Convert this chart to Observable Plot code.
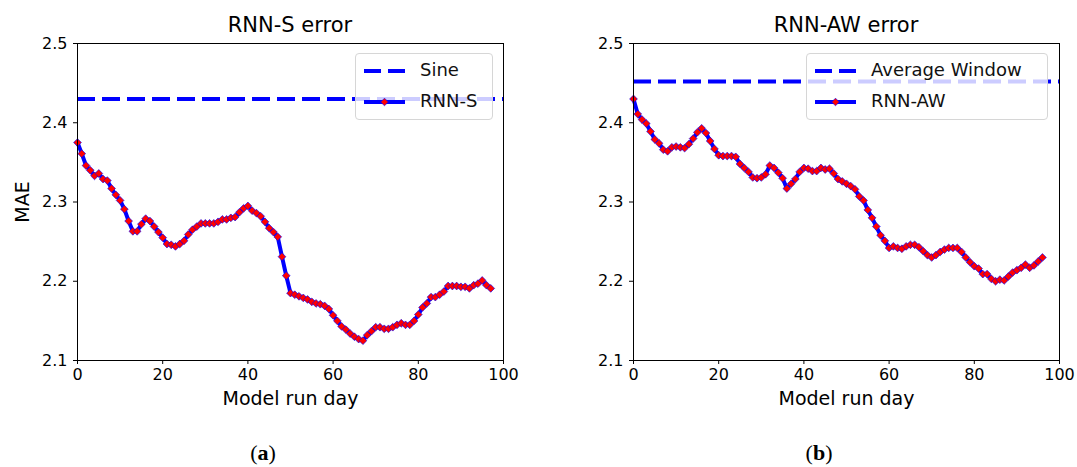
<!DOCTYPE html>
<html><head><meta charset="utf-8">
<script src="https://cdn.jsdelivr.net/npm/d3@7"></script>
<script src="https://cdn.jsdelivr.net/npm/@observablehq/plot@0.6"></script>
<style>
body{margin:0;background:#fff;font-family:"DejaVu Sans",sans-serif;}
#wrap{position:relative;width:1077px;height:467px;overflow:hidden;}
.panel{position:absolute;top:0;}
.title{position:absolute;top:13px;font-size:21px;transform:translateX(-50%);white-space:nowrap;color:#000;}
.cap{position:absolute;top:440px;font-family:"Liberation Serif",serif;font-size:22px;transform:translateX(-50%);color:#000;}
.legend{position:absolute;top:53px;height:67px;background:rgba(255,255,255,0.8);border:1px solid #d6d6d6;border-radius:4px;box-sizing:border-box;}
.legend .lab{position:absolute;left:64px;font-size:18px;color:#111;white-space:nowrap;line-height:20px;}
.legend svg{position:absolute;left:0;top:0;}
g[aria-label="x-axis label"] text, g[aria-label="y-axis label"] text{font-size:19px;}
</style></head><body><div id="wrap"></div>
<script>
// RNN-S daily MAE (day 0..97)
const rnnS = [2.375,2.361,2.346,2.340,2.333,2.336,2.329,2.327,2.317,2.309,
  2.302,2.291,2.276,2.263,2.263,2.272,2.279,2.276,2.269,2.262,
  2.255,2.247,2.246,2.244,2.247,2.251,2.259,2.265,2.269,2.273,
  2.273,2.273,2.273,2.275,2.278,2.278,2.280,2.281,2.287,2.292,
  2.295,2.289,2.286,2.282,2.275,2.267,2.262,2.256,2.231,2.207,
  2.185,2.183,2.181,2.179,2.177,2.174,2.172,2.171,2.169,2.165,
  2.157,2.150,2.143,2.139,2.134,2.130,2.127,2.125,2.132,2.137,
  2.142,2.142,2.140,2.140,2.142,2.145,2.147,2.145,2.145,2.150,
  2.158,2.167,2.172,2.180,2.180,2.183,2.187,2.194,2.194,2.194,
  2.193,2.193,2.191,2.195,2.197,2.201,2.195,2.191];
// RNN-AW daily MAE (day 0..96)
const rnnAW = [2.430,2.411,2.404,2.399,2.389,2.379,2.374,2.366,2.364,2.369,
  2.370,2.369,2.368,2.373,2.380,2.388,2.393,2.387,2.377,2.367,
  2.359,2.358,2.358,2.358,2.357,2.348,2.343,2.338,2.331,2.330,
  2.331,2.335,2.346,2.343,2.337,2.330,2.317,2.323,2.329,2.338,
  2.343,2.342,2.339,2.339,2.343,2.341,2.342,2.336,2.329,2.326,
  2.323,2.320,2.316,2.307,2.302,2.290,2.280,2.269,2.258,2.251,
  2.242,2.244,2.242,2.241,2.244,2.246,2.246,2.243,2.238,2.233,
  2.230,2.233,2.237,2.240,2.242,2.242,2.242,2.237,2.230,2.224,
  2.219,2.216,2.209,2.209,2.203,2.200,2.202,2.201,2.206,2.211,
  2.214,2.217,2.221,2.217,2.220,2.225,2.230];
// Baselines
const sineMAE = 2.43;
const avgWindowMAE = 2.452;
const xTicks = [0,20,40,60,80,100];
const yTicks = [2.1,2.2,2.3,2.4,2.5];
const titles = ["RNN-S error","RNN-AW error"];
const legendA = ["Sine","RNN-S"];
const legendB = ["Average Window","RNN-AW"];
const captions = ["a","b"];

const BLUE = "#0000ff", RED = "#ff0000";
const wrap = document.getElementById("wrap");

function panel(values, ref, showY, width, marginRight) {
  const data = values.map((v, i) => ({day: i, mae: v}));
  return Plot.plot({
    width, height: 420,
    marginTop: 43, marginBottom: 60, marginLeft: 77, marginRight,
    style: {fontFamily: "DejaVu Sans", fontSize: "16px", color: "#000", background: "transparent", overflow: "visible"},
    x: {domain: [0, 100]},
    y: {domain: [2.1, 2.5]},
    marks: [
      Plot.ruleY([ref], {stroke: BLUE, strokeWidth: 4, strokeDasharray: "18,7"}),
      Plot.line(data, {x: "day", y: "mae", stroke: BLUE, strokeWidth: 4, strokeLinejoin: "round"}),
      Plot.dot(data, {x: "day", y: "mae", symbol: "square", rotate: 45, r: 3.1, fill: RED, stroke: BLUE, strokeWidth: 0.6}),
      Plot.frame({stroke: "#000", strokeWidth: 1}),
      Plot.axisX({ticks: xTicks, tickSize: 4, tickPadding: 4, tickFormat: d3.format("d"),
        label: "Model run day", labelArrow: "none", labelAnchor: "center", labelOffset: 44}),
      Plot.axisY({ticks: yTicks, tickSize: 4, tickPadding: 6, tickFormat: d3.format(".1f"),
        label: showY ? "MAE" : null, labelArrow: "none", labelAnchor: "center", labelOffset: 62})
    ]
  });
}

function place(el, left) { el.classList.add("panel"); el.style.left = left + "px"; wrap.appendChild(el); }

place(panel(rnnS, sineMAE, true, 540, 37), 0);
place(panel(rnnAW, avgWindowMAE, false, 521, 18), 556);

function div(cls, left, html) {
  const d = document.createElement("div");
  d.className = cls; d.style.left = left + "px"; d.innerHTML = html; wrap.appendChild(d); return d;
}
div("title", 290, titles[0]);
div("title", 846, titles[1]);
div("cap", 263, "(<b>" + captions[0] + "</b>)");
div("cap", 819, "(<b>" + captions[1] + "</b>)");

function legend(left, width, labels) {
  const d = div("legend", left, "");
  d.style.width = width + "px";
  const ns = "http://www.w3.org/2000/svg";
  const svg = document.createElementNS(ns, "svg");
  svg.setAttribute("width", width); svg.setAttribute("height", 67);
  svg.innerHTML =
    `<line x1="8" x2="49" y1="17" y2="17" stroke="${BLUE}" stroke-width="4" stroke-dasharray="17,7"/>` +
    `<line x1="8" x2="49" y1="48" y2="48" stroke="${BLUE}" stroke-width="4"/>` +
    `<rect x="-2.7" y="-2.7" width="5.4" height="5.4" transform="translate(28.5,48) rotate(45)" fill="${RED}" stroke="${BLUE}" stroke-width="0.6"/>`;
  d.appendChild(svg);
  labels.forEach((t, i) => {
    const s = document.createElement("div");
    s.className = "lab"; s.textContent = t; s.style.top = (i === 0 ? 6 : 37) + "px";
    d.appendChild(s);
  });
}
legend(355, 138, legendA);
legend(806, 242, legendB);
</script>
</body></html>
